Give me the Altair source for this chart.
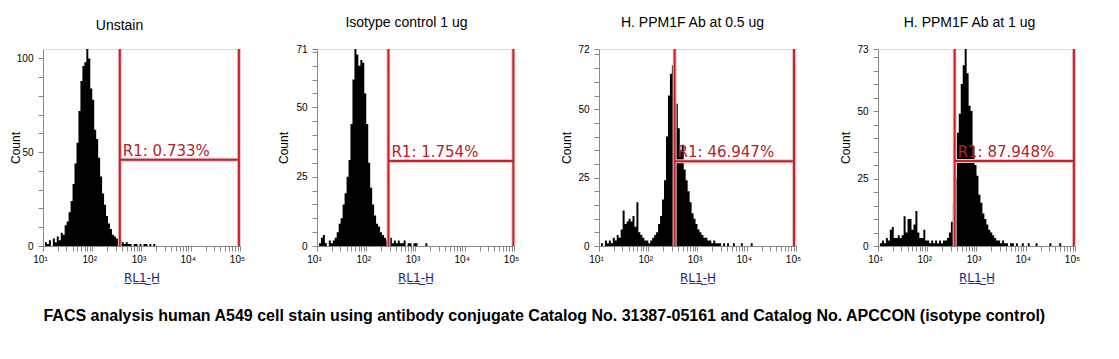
import altair as alt
import pandas as pd

TITLES = ["Unstain", "Isotype control 1 ug", "H. PPM1F Ab at 0.5 ug", "H. PPM1F Ab at 1 ug"]
Y_MAX = [105, 71, 72, 73]
Y_LABELS = [[0, 50, 100], [0, 25, 50, 71], [0, 25, 50, 72], [0, 25, 50, 73]]
Y_MINOR_STEP = [10, 5, 5, 5]
GATE_LO = [363, 282, 343, 360]
GATE_HI = [95000, 97000, 91000, 95000]
GATE_Y = [46, 30.6, 31, 31.5]
GATE_TEXT = ["R1: 0.733%", "R1: 1.754%", "R1: 46.947%", "R1: 87.948%"]
X_TITLE = "R\u0332L\u03321\u0332-\u0332H\u0332"
CAPTION = ("FACS analysis human A549 cell stain using antibody conjugate Catalog No. "
           "31387-05161 and Catalog No. APCCON (isotype control)")

# histogram channels: log10 start exponent and width of each channel
BIN_START_EXP = 1.0
BIN_STEP_EXP = 0.04

COUNTS_UNSTAIN = [0, 2, 1, 3, 0, 4, 2, 5, 3, 7,
                  6, 11, 13, 18, 24, 33, 44, 55, 72, 88,
                  96, 98, 105, 100, 84, 78, 62, 57, 47, 37,
                  28, 22, 16, 12, 9, 6, 5, 4, 3, 3,
                  2, 1, 2, 1, 1, 0, 1, 1, 0, 1,
                  0, 1, 1, 0, 1, 0, 1]
COUNTS_ISOTYPE = [0, 1, 3, 4, 1, 0, 2, 1, 2, 3,
                  5, 8, 10, 15, 19, 25, 31, 44, 60, 71,
                  69, 65, 67, 66, 55, 44, 30, 21, 15, 11,
                  8, 7, 5, 4, 3, 2, 2, 3, 1, 2,
                  1, 2, 1, 1, 2, 0, 1, 1, 0, 1,
                  1, 0, 0, 0, 0, 1]
COUNTS_PPM1F_05 = [0, 1, 0, 2, 1, 2, 1, 3, 2, 4,
                   3, 6, 13, 8, 9, 10, 9, 11, 7, 16,
                   5, 4, 3, 2, 2, 1, 2, 3, 4, 5,
                   8, 11, 17, 24, 40, 55, 63, 66, 60, 52,
                   43, 35, 37, 28, 24, 20, 16, 12, 10, 8,
                   6, 5, 4, 3, 3, 2, 2, 1, 2, 1,
                   1, 1, 0, 1, 0, 1, 0, 0, 1, 0,
                   0, 0, 1, 0, 0, 0, 0, 1, 0, 0,
                   0, 0, 0, 0, 0, 0, 0, 0, 0, 0,
                   0, 0, 0, 0, 0, 0, 0, 0, 0, 10]
COUNTS_PPM1F_1 = [0, 1, 2, 1, 3, 2, 6, 7, 3, 3,
                  4, 3, 4, 11, 5, 10, 10, 6, 8, 13,
                  5, 3, 3, 6, 2, 2, 1, 2, 1, 2,
                  1, 2, 1, 2, 2, 3, 5, 9, 16, 25,
                  42, 49, 60, 67, 73, 64, 52, 50, 37, 30,
                  26, 19, 16, 12, 10, 8, 6, 5, 4, 3,
                  2, 2, 1, 2, 1, 1, 0, 1, 1, 0,
                  1, 0, 0, 1, 0, 0, 1, 0, 0, 0,
                  1, 0, 0, 0, 0, 0, 0, 1, 0, 0,
                  0, 0, 1, 0, 0, 0, 0, 0, 0, 16]
COUNTS = [COUNTS_UNSTAIN, COUNTS_ISOTYPE, COUNTS_PPM1F_05, COUNTS_PPM1F_1]

X_TICKS = [m * 10 ** d for d in range(1, 5) for m in range(1, 10)] + [100000]
X_LABEL_EXPR = ("datum.value == 10 ? '10\u00b9' : datum.value == 100 ? '10\u00b2' : "
                "datum.value == 1000 ? '10\u00b3' : datum.value == 10000 ? '10\u2074' : "
                "datum.value == 100000 ? '10\u2075' : ''")

RED = "#c4222a"
HALO = "#efc2c4"
TEXT_RED = "#b3232a"
W, H = 197, 197
TITLE_DX = [-22, -9, -5, -7]
COUNT_X = [-28, -34, -33, -33]


def panel(k):
    counts = COUNTS[k]
    n = len(counts)
    xs = [10 ** (BIN_START_EXP + BIN_STEP_EXP * i) for i in range(n + 1)]
    hist_df = pd.DataFrame({"x": xs, "count": counts + [0]})
    xscale = alt.Scale(type="log", domain=[10, 100000], nice=False)
    yscale = alt.Scale(domain=[0, Y_MAX[k]], nice=False, zero=True)
    yvals = list(range(0, Y_MAX[k] + 1, Y_MINOR_STEP[k]))
    if Y_MAX[k] not in yvals and Y_MAX[k] in Y_LABELS[k]:
        yvals.append(Y_MAX[k])
    ylab = "indexof(%s, datum.value) >= 0 ? datum.label : ''" % str(Y_LABELS[k])
    xaxis = alt.Axis(values=X_TICKS, labelExpr=X_LABEL_EXPR, labelFlush=False, grid=False,
                     labelOverlap=False, labelAlign="center", labelOffset=-3,
                     labelPadding=3, title=X_TITLE, titleFont="DejaVu Sans",
                     titleFontSize=12, titleFontWeight="normal", titleColor="#1b1b8a",
                     titlePadding=8)
    yaxis = alt.Axis(values=yvals, labelExpr=ylab, labelFlush=False, labelOverlap=False,
                     grid=False, labelPadding=5, title="Count", titleFont="Liberation Sans",
                     titleFontSize=12, titleFontWeight="normal", titleColor="#000000",
                     titleAngle=270, titleX=COUNT_X[k], titleY=H / 2,
                     titleBaseline="middle", titleAlign="center")
    X = alt.X("x:Q", scale=xscale, axis=xaxis)
    Y = alt.Y("count:Q", scale=yscale, axis=yaxis)
    Y0 = alt.Y("zero:Q", scale=yscale, axis=yaxis)
    XH = alt.X("x2:Q", scale=xscale, axis=xaxis)

    hist = alt.Chart(hist_df).mark_area(interpolate="step-after", color="#000000").encode(x=X, y=Y)

    gate_df = pd.DataFrame({"x": [GATE_LO[k]], "x2": [GATE_HI[k]], "count": [GATE_Y[k]],
                            "zero": [0], "top": [Y_MAX[k]], "label": [GATE_TEXT[k]]})
    g = alt.Chart(gate_df)
    layers = [hist]
    for col, sw in ((HALO, 4), (RED, 2)):
        layers.append(g.mark_rule(color=col, strokeWidth=sw).encode(x=X, y=Y0, y2="top:Q"))
        layers.append(g.mark_rule(color=col, strokeWidth=sw).encode(x=XH, y=Y0, y2="top:Q"))
        layers.append(g.mark_rule(color=col, strokeWidth=sw).encode(x=X, x2="x2:Q", y=Y))
    layers.append(g.mark_text(align="left", baseline="alphabetic", dx=3, dy=-4,
                              font="DejaVu Sans", fontSize=15, color=TEXT_RED).encode(
        x=X, y=Y, text="label:N"))

    return alt.layer(*layers).properties(
        width=W, height=H,
        title=alt.TitleParams(TITLES[k], font="Liberation Sans", fontSize=14,
                              fontWeight="normal", color="#000000", anchor="middle",
                              frame="group", dx=TITLE_DX[k], offset=14))


left = alt.hconcat(panel(0), panel(1), spacing=30, bounds="full")
right = alt.hconcat(panel(2), panel(3), spacing=36, bounds="full")
chart = alt.hconcat(left, right, spacing=39, bounds="full").properties(
    title=alt.TitleParams(CAPTION, orient="bottom", anchor="middle", font="Liberation Sans",
                          fontSize=16, fontWeight="bold", color="#000000", offset=24),
    padding={"left": 0, "top": 7, "right": 0, "bottom": 0},
).configure_view(stroke="#a8a8a8", strokeWidth=1).configure_axis(
    domainColor="#a8a8a8", tickColor="#a8a8a8", tickSize=3, grid=False,
    labelFont="Liberation Sans", labelFontSize=9, labelColor="#111111"
).configure(background="white")

chart.save("out.html", embed_options={"renderer": "svg", "actions": False})
